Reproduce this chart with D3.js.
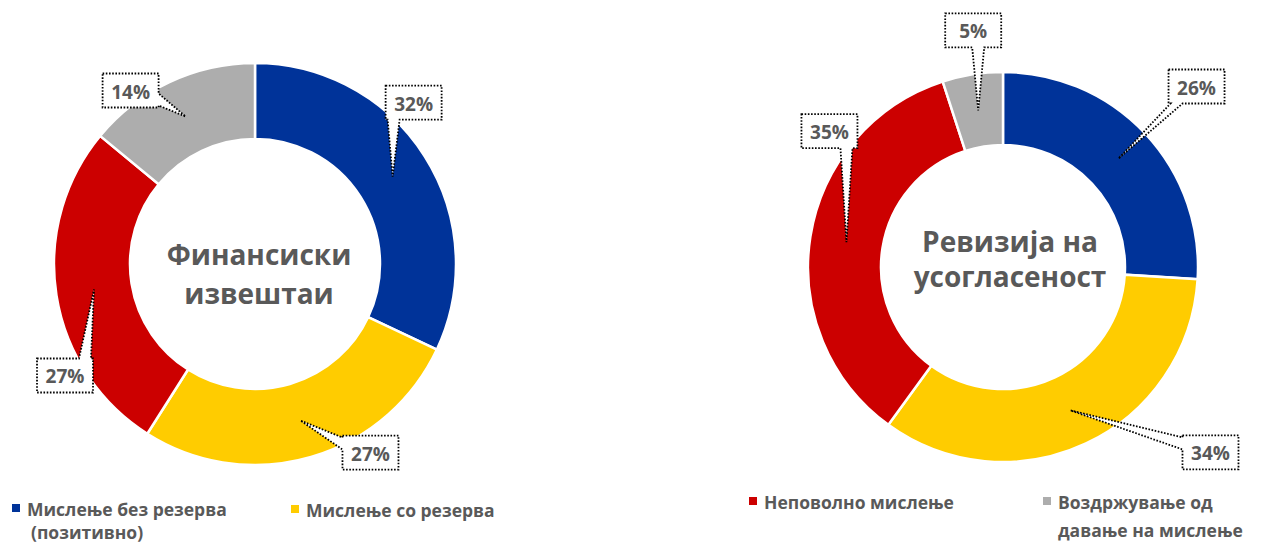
<!DOCTYPE html>
<html>
<head>
<meta charset="utf-8">
<script src="https://cdn.jsdelivr.net/npm/d3@7"></script>
<style>
  body { margin: 0; background: #fff; }
  text { font-family: "Open Sans", "Noto Sans", sans-serif; font-weight: bold; fill: #595959; }
</style>
</head>
<body>
<div id="chart"></div>
<script>
// data
var categories = ["Мислење без резерва", "Мислење со резерва", "Неповолно мислење", "Воздржување од давање на мислење"];
var finValues = [32, 27, 27, 14];   // Финансиски извештаи
var revValues = [26, 34, 35, 5];    // Ревизија на усогласеност
var finTitle = ["Финансиски", "извештаи"];
var revTitle = ["Ревизија на", "усогласеност"];
var legendLines = [["Мислење без резерва", "(позитивно)"], ["Мислење со резерва"], ["Неповолно мислење"], ["Воздржување од", "давање на мислење"]];

var colors = ["#003399", "#FFCC00", "#CC0000", "#ADADAD"];

var width = 1263, height = 543;

var svg = d3.select("#chart")
  .append("svg")
    .attr("width", width)
    .attr("height", height);

// layout of the two donuts; label offsets are box centre relative to pointer tip
var charts = [
  {values: finValues, title: finTitle, cx: 255, cy: 264, outer: 201, inner: 125,
   titleX: 259, titleY: 265, titleGap: 39,
   offsets: [[21, -74], [70, 32], [-29, 86], [-55, -26]]},
  {values: revValues, title: revTitle, cx: 1003, cy: 267, outer: 195, inner: 122,
   titleX: 1010, titleY: 252, titleGap: 35,
   offsets: [[78, -72], [140, 42], [-17, -111], [-5, -80]]}
];

var pie = d3.pie().sort(null).value(function(d) { return d; });

function clamp(v, a, b) { return Math.max(a, Math.min(b, v)); }

// box with a wedge pointing at (tx,ty)
function calloutPath(x0, y0, x1, y1, tx, ty) {
  var ex = [x0 - tx, tx - x1, y0 - ty, ty - y1];
  var side = ex.indexOf(d3.max(ex));
  var hw = 6, m = 8, c;
  var p = [[x0, y0]];
  if (side == 2) { c = clamp(tx, x0 + m, x1 - m); p.push([c - hw, y0], [tx, ty], [c + hw, y0]); }
  p.push([x1, y0]);
  if (side == 1) { c = clamp(ty, y0 + m, y1 - m); p.push([x1, c - hw], [tx, ty], [x1, c + hw]); }
  p.push([x1, y1]);
  if (side == 3) { c = clamp(tx, x0 + m, x1 - m); p.push([c + hw, y1], [tx, ty], [c - hw, y1]); }
  p.push([x0, y1]);
  if (side == 0) { c = clamp(ty, y0 + m, y1 - m); p.push([x0, c + hw], [tx, ty], [x0, c - hw]); }
  return "M" + p.join("L") + "Z";
}

var boxW = 56, boxH = 34;

charts.forEach(function(ch) {
  var g = svg.append("g")
    .attr("transform", "translate(" + ch.cx + "," + ch.cy + ")");

  var arc = d3.arc().innerRadius(ch.inner).outerRadius(ch.outer);
  var arcs = pie(ch.values);

  g.selectAll("path.slice")
    .data(arcs)
    .enter().append("path")
      .attr("class", "slice")
      .attr("d", arc)
      .attr("fill", function(d, i) { return colors[i]; })
      .attr("stroke", "#fff")
      .attr("stroke-width", 2.5);

  // centre title
  g.selectAll("text.title")
    .data(ch.title)
    .enter().append("text")
      .attr("class", "title")
      .attr("x", ch.titleX - ch.cx)
      .attr("y", function(d, i) { return ch.titleY - ch.cy + i * ch.titleGap; })
      .attr("text-anchor", "middle")
      .style("font-size", "28px")
      .text(function(d) { return d; });

  // data labels
  var rMid = (ch.inner + ch.outer) / 2;
  arcs.forEach(function(d, i) {
    var a = (d.startAngle + d.endAngle) / 2;
    var tx = Math.sin(a) * rMid, ty = -Math.cos(a) * rMid;
    var bx = tx + ch.offsets[i][0], by = ty + ch.offsets[i][1];
    var x0 = bx - boxW / 2, y0 = by - boxH / 2;
    g.append("path")
      .attr("d", calloutPath(x0, y0, x0 + boxW, y0 + boxH, tx, ty))
      .attr("fill", "#fff")
      .attr("stroke", "#000")
      .attr("stroke-width", 1.8)
      .attr("stroke-dasharray", "1.6,1.6");
    g.append("text")
      .attr("x", bx)
      .attr("y", by + 1)
      .attr("text-anchor", "middle")
      .attr("dominant-baseline", "central")
      .style("font-size", "19px")
      .text(d.data + "%");
  });
});

// legend: square x, y, line gap, second-line indent
var legendPos = [[12, 504, 23, 4], [291, 505, 23, 0], [749, 497, 28, 0], [1043, 497, 28, 0]];

var leg = svg.selectAll("g.legend")
  .data(categories)
  .enter().append("g")
    .attr("class", "legend")
    .attr("transform", function(d, i) { return "translate(" + legendPos[i][0] + "," + legendPos[i][1] + ")"; });

leg.append("rect")
  .attr("width", 8)
  .attr("height", 8)
  .attr("fill", function(d, i) { return colors[i]; });

leg.each(function(d, i) {
  d3.select(this).selectAll("text")
    .data(legendLines[i])
    .enter().append("text")
      .attr("x", function(t, j) { return 15 + (j ? legendPos[i][3] : 0); })
      .attr("y", function(t, j) { return 12 + j * legendPos[i][2]; })
      .style("font-size", "17.5px")
      .text(function(t) { return t; });
});
</script>
</body>
</html>
